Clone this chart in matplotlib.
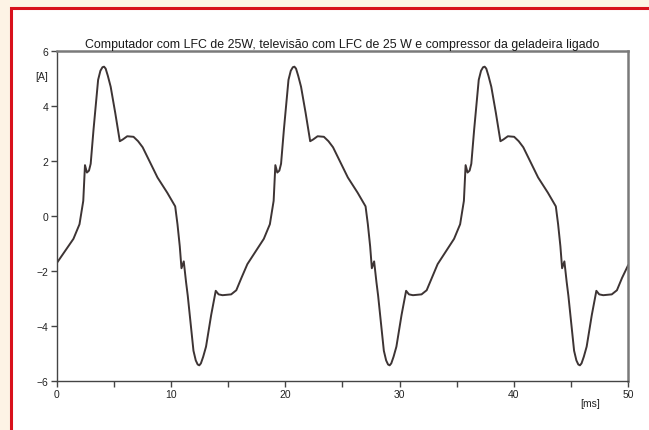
import matplotlib
matplotlib.use("Agg")
import matplotlib.pyplot as plt
from matplotlib.patches import Rectangle
from matplotlib.ticker import MultipleLocator

# Corrente medida (leitura do gráfico): tempo em ms, corrente em A
tempo_ms = [
    0.00, 0.70, 1.44, 1.97, 2.30, 2.45, 2.62, 2.80, 2.95, 3.20, 3.60, 3.80, 3.98, 4.12, 4.26,
    4.45, 4.70, 5.10, 5.50, 5.75, 6.15, 6.70, 7.10, 7.50, 8.15, 8.80, 9.65, 10.35, 10.55,
    10.75, 10.90, 11.10, 11.30, 11.45, 11.95, 12.15, 12.32, 12.46, 12.60, 12.80, 13.05,
    13.50, 13.90, 14.15, 14.50, 15.25, 15.70, 16.15,
    16.67, 17.37, 18.11, 18.64, 18.97, 19.12, 19.29, 19.47, 19.62, 19.87, 20.27, 20.47,
    20.65, 20.79, 20.93, 21.12, 21.37, 21.77, 22.17, 22.42, 22.82, 23.37, 23.77, 24.17,
    24.82, 25.47, 26.32, 27.02, 27.22, 27.42, 27.57, 27.77, 27.97, 28.12, 28.62, 28.82,
    28.99, 29.13, 29.27, 29.47, 29.72, 30.17, 30.57, 30.82, 31.17, 31.92, 32.37, 32.82,
    33.33, 34.03, 34.77, 35.30, 35.63, 35.78, 35.95, 36.13, 36.28, 36.53, 36.93, 37.13,
    37.31, 37.45, 37.59, 37.78, 38.03, 38.43, 38.83, 39.08, 39.48, 40.03, 40.43, 40.83,
    41.48, 42.13, 42.98, 43.68, 43.88, 44.08, 44.23, 44.43, 44.63, 44.78, 45.28, 45.48,
    45.65, 45.79, 45.93, 46.13, 46.38, 46.83, 47.23, 47.48, 47.83, 48.58, 49.03, 49.48,
    50.00,
]
corrente_a = [
    -1.70, -1.28, -0.83, -0.30, 0.55, 1.85, 1.58, 1.65, 1.90, 3.15, 4.95, 5.28, 5.41, 5.43, 5.36,
    5.10, 4.70, 3.75, 2.72, 2.78, 2.90, 2.88, 2.72, 2.50, 1.95, 1.40, 0.85, 0.35, -0.30,
    -1.10, -1.90, -1.65, -2.40, -2.90, -4.90, -5.25, -5.40, -5.43, -5.36, -5.12, -4.75,
    -3.60, -2.72, -2.85, -2.88, -2.85, -2.70, -2.25,
    -1.75, -1.30, -0.83, -0.30, 0.55, 1.85, 1.58, 1.65, 1.90, 3.15, 4.95, 5.28,
    5.41, 5.43, 5.36, 5.10, 4.70, 3.75, 2.72, 2.78, 2.90, 2.88, 2.72, 2.50,
    1.95, 1.40, 0.85, 0.35, -0.30, -1.10, -1.90, -1.65, -2.40, -2.90, -4.90, -5.25,
    -5.40, -5.43, -5.36, -5.12, -4.75, -3.60, -2.72, -2.85, -2.88, -2.85, -2.70, -2.25,
    -1.75, -1.30, -0.83, -0.30, 0.55, 1.85, 1.58, 1.65, 1.90, 3.15, 4.95, 5.28,
    5.41, 5.43, 5.36, 5.10, 4.70, 3.75, 2.72, 2.78, 2.90, 2.88, 2.72, 2.50,
    1.95, 1.40, 0.85, 0.35, -0.30, -1.10, -1.90, -1.65, -2.40, -2.90, -4.90, -5.25,
    -5.40, -5.43, -5.36, -5.12, -4.75, -3.60, -2.72, -2.85, -2.88, -2.85, -2.70, -2.25,
    -1.80,
]

titulo = "Computador com LFC de 25W, televisão com LFC de 25 W e compressor da geladeira ligado"
ticks_y = [-6, -4, -2, 0, 2, 4, 6]
ticks_x = [0, 10, 20, 30, 40, 50]

plt.rcParams['font.family'] = ['Liberation Sans', 'DejaVu Sans']

fig = plt.figure(figsize=(6.49, 4.31), dpi=100, facecolor='#fdf3e5')

# moldura vermelha (sai pela direita e por baixo)
fig.patches.append(Rectangle((11 / 649, -0.1), 1.0, 1.1 - 9 / 431,
                             transform=fig.transFigure, facecolor='white',
                             edgecolor='#d8101c', linewidth=2.2, zorder=-5))

ax = fig.add_axes([57 / 649, 1 - 382 / 431, (628 - 57) / 649, (382 - 52) / 431])
ax.patch.set_alpha(0)
ax.plot(tempo_ms, corrente_a, color='#3d3434', linewidth=1.4)

ax.set_xlim(0, 50)
ax.set_ylim(-6, 6)
ax.set_yticks(ticks_y)
ax.set_xticks(ticks_x)
ax.xaxis.set_minor_locator(MultipleLocator(5))
ax.tick_params(axis='both', which='both', direction='out', length=4, width=1,
               color='#444444', labelsize=7.5, labelcolor='#222222', pad=2)
ax.tick_params(axis='x', which='minor', length=4)

for s in ['left', 'bottom']:
    ax.spines[s].set_color('#444444')
    ax.spines[s].set_linewidth(1.0)
for s in ['top', 'right']:
    ax.spines[s].set_color('#7a7a7a')
    ax.spines[s].set_linewidth(1.8)

ax.set_title(titulo, fontsize=8.9, color='#1a1a1a', pad=3)
fig.text(42 / 649, 1 - 77 / 431, '[A]', fontsize=7.5, color='#222222', ha='center', va='center')
fig.text(590 / 649, 1 - 404 / 431, '[ms]', fontsize=7.5, color='#222222', ha='center', va='center')

fig.savefig('out.png', dpi=100, facecolor=fig.get_facecolor())
